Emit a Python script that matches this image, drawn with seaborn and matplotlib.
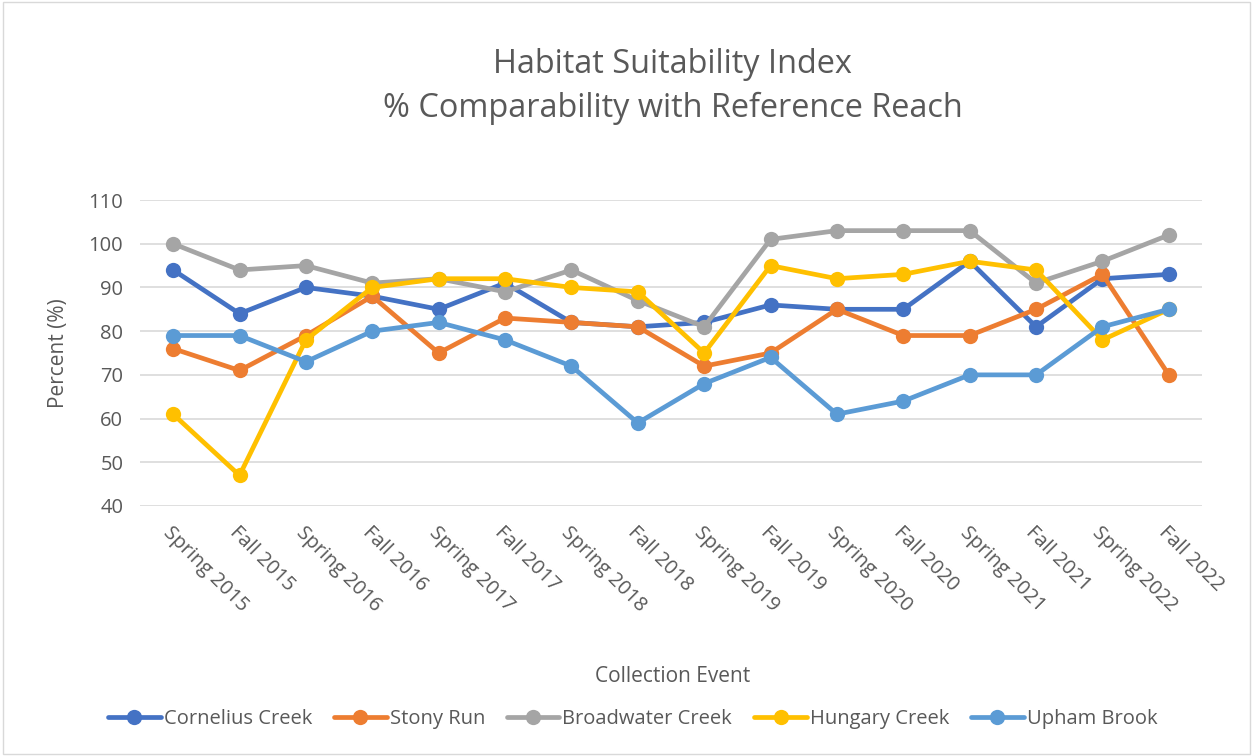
import pandas as pd
import matplotlib.pyplot as plt
import seaborn as sns
from matplotlib.patches import Rectangle

# data
events = ['Spring 2015', 'Fall 2015', 'Spring 2016', 'Fall 2016', 'Spring 2017', 'Fall 2017',
          'Spring 2018', 'Fall 2018', 'Spring 2019', 'Fall 2019', 'Spring 2020', 'Fall 2020',
          'Spring 2021', 'Fall 2021', 'Spring 2022', 'Fall 2022']
cornelius = [94, 84, 90, 88, 85, 91, 82, 81, 82, 86, 85, 85, 96, 81, 92, 93]
stony = [76, 71, 79, 88, 75, 83, 82, 81, 72, 75, 85, 79, 79, 85, 93, 70]
broadwater = [100, 94, 95, 91, 92, 89, 94, 87, 81, 101, 103, 103, 103, 91, 96, 102]
hungary = [61, 47, 78, 90, 92, 92, 90, 89, 75, 95, 92, 93, 96, 94, 78, 85]
upham = [79, 79, 73, 80, 82, 78, 72, 59, 68, 74, 61, 64, 70, 70, 81, 85]
sites = ['Cornelius Creek', 'Stony Run', 'Broadwater Creek', 'Hungary Creek', 'Upham Brook']
colors = ['#4472C4', '#ED7D31', '#A5A5A5', '#FFC000', '#5B9BD5']

# %%
frames = []
for name, vals in zip(sites, [cornelius, stony, broadwater, hungary, upham]):
    frames.append(pd.DataFrame({'event': events, 'value': vals, 'site': name}))
df = pd.concat(frames, ignore_index=True)

sns.set_style('white')
plt.rcParams['font.family'] = ['Open Sans', 'DejaVu Sans']
txt = '#595959'

fig = plt.figure(figsize=(12.53, 7.56), dpi=100)
ax = fig.add_axes([0.1117, 0.3307, 0.8476, 0.4047])

sns.lineplot(data=df, x='event', y='value', hue='site', palette=colors, sort=False,
             marker='o', markersize=11, markeredgewidth=0, linewidth=3.4, ax=ax, legend=False)

ax.set_xlim(-0.5, len(events) - 0.5)
ax.set_ylim(40, 110)
ax.set_yticks(range(40, 111, 10))
ax.grid(axis='y', color='#D9D9D9', linewidth=1.2)
ax.set_axisbelow(True)
for s in ax.spines.values():
    s.set_visible(False)
ax.tick_params(axis='both', length=0, labelsize=14.5, colors=txt)
ax.set_xticks(range(len(events)))
ax.set_xticklabels(events, rotation=-45, ha='left', va='top', rotation_mode='anchor')
ax.tick_params(axis='x', pad=12)
ax.tick_params(axis='y', pad=12)
ax.set_xlabel('')
ax.set_ylabel('Percent (%)', fontsize=15, color=txt, labelpad=14)

fig.text(0.537, 0.105, 'Collection Event', ha='center', va='center', fontsize=15, color=txt)
fig.text(0.537, 0.915, 'Habitat Suitability Index', ha='center', va='center', fontsize=23.4, color=txt)
fig.text(0.537, 0.857, '% Comparability with Reference Reach', ha='center', va='center',
         fontsize=23.4, color=txt)

handles = [plt.Line2D([], [], color=c, marker='o', markersize=11, markeredgewidth=0, linewidth=3.4)
           for c in colors]
leg = fig.legend(handles, sites, loc='center', bbox_to_anchor=(0.505, 0.049), ncol=5,
                 frameon=False, fontsize=14.5, handlelength=2.6, columnspacing=1.1, handletextpad=0.15)
for t in leg.get_texts():
    t.set_color(txt)

fig.patches.append(Rectangle((0.002, 0.002), 0.996, 0.996, transform=fig.transFigure,
                             fill=False, edgecolor='#D9D9D9', linewidth=1))

fig.savefig('out.png', dpi=100)
